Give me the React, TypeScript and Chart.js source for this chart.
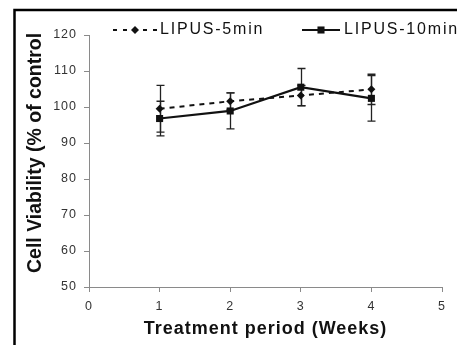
import React, { useEffect, useRef } from 'react';
import { Chart, registerables } from 'chart.js';

Chart.register(...registerables);

const weeks = [1, 2, 3, 4];
const xTicks = [0, 1, 2, 3, 4, 5];
const yTicks = [50, 60, 70, 80, 90, 100, 110, 120];
const lipus5 = [99.5, 101.6, 103.2, 104.9];
const lipus5Err = [6.5, 2.3, 2.8, 4.2];
const lipus10 = [96.8, 98.9, 105.5, 102.4];
const lipus10Err = [4.8, 5.0, 5.2, 6.3];
const seriesLabels = ['LIPUS-5min', 'LIPUS-10min'];
const xTitle = 'Treatment period (Weeks)';
const yTitle = 'Cell Viability (% of control';

const FONT = '"Liberation Sans", Arial, Helvetica, sans-serif';
const INK = '#111';
const AXIS = '#8a8a8a';

function drawMarker(ctx: CanvasRenderingContext2D, style: string, x: number, y: number, r: number) {
  ctx.beginPath();
  if (style === 'rectRot') {
    ctx.moveTo(x - r, y);
    ctx.lineTo(x, y - r);
    ctx.lineTo(x + r, y);
    ctx.lineTo(x, y + r);
  } else {
    const s = r * Math.SQRT1_2;
    ctx.rect(x - s, y - s, 2 * s, 2 * s);
  }
  ctx.closePath();
  ctx.fill();
}

const customPlugin = {
  id: 'customDecor',
  beforeDraw(chart: any) {
    const ctx = chart.ctx as CanvasRenderingContext2D;
    (ctx as any).letterSpacing = '1px';
    ctx.save();
    ctx.strokeStyle = '#000';
    ctx.lineWidth = 2.5;
    ctx.beginPath();
    ctx.moveTo(14.5, 400);
    ctx.lineTo(14.5, 10);
    ctx.lineTo(600, 10);
    ctx.stroke();
    ctx.restore();
  },
  beforeDatasetsDraw(chart: any) {
    const ctx = chart.ctx as CanvasRenderingContext2D;
    const xs = chart.scales.x;
    const ys = chart.scales.y;
    const sets = [
      { v: lipus5, e: lipus5Err },
      { v: lipus10, e: lipus10Err },
    ];
    ctx.save();
    ctx.strokeStyle = '#222';
    ctx.lineWidth = 1.3;
    ctx.setLineDash([]);
    sets.forEach((s) => {
      weeks.forEach((w, i) => {
        const x = Math.round(xs.getPixelForValue(w)) + 0.5;
        const yt = ys.getPixelForValue(s.v[i] + s.e[i]);
        const yb = ys.getPixelForValue(s.v[i] - s.e[i]);
        ctx.beginPath();
        ctx.moveTo(x, yt);
        ctx.lineTo(x, yb);
        ctx.moveTo(x - 4, yt);
        ctx.lineTo(x + 4, yt);
        ctx.moveTo(x - 4, yb);
        ctx.lineTo(x + 4, yb);
        ctx.stroke();
      });
    });
    ctx.restore();
  },
  afterDraw(chart: any) {
    const ctx = chart.ctx as CanvasRenderingContext2D;
    const area = chart.chartArea;
    // legend
    const items = [
      { x0: 113, x1: 157, mx: 135, tx: 160, dash: [4, 6], style: 'rectRot', r: 4 },
      { x0: 302, x1: 340, mx: 321, tx: 344, dash: [] as number[], style: 'rect', r: 5 },
    ];
    const ly = 30;
    ctx.save();
    items.forEach((it, i) => {
      ctx.strokeStyle = INK;
      ctx.fillStyle = INK;
      ctx.lineWidth = 2;
      ctx.setLineDash(it.dash);
      ctx.beginPath();
      ctx.moveTo(it.x0, ly);
      ctx.lineTo(it.x1, ly);
      ctx.stroke();
      ctx.setLineDash([]);
      drawMarker(ctx, it.style, it.mx, ly, it.r);
      (ctx as any).letterSpacing = '1.8px';
      ctx.font = `16px ${FONT}`;
      ctx.textAlign = 'left';
      ctx.textBaseline = 'middle';
      ctx.fillText(seriesLabels[i], it.tx, ly);
    });
    ctx.restore();

    // x title
    ctx.save();
    (ctx as any).letterSpacing = '1px';
    ctx.fillStyle = INK;
    ctx.font = `bold 18px ${FONT}`;
    ctx.textAlign = 'center';
    ctx.textBaseline = 'middle';
    ctx.fillText(xTitle, (area.left + area.right) / 2, 329);
    ctx.restore();

    // y title
    ctx.save();
    (ctx as any).letterSpacing = '0px';
    ctx.fillStyle = INK;
    ctx.font = `bold 19.5px ${FONT}`;
    ctx.translate(36, 273);
    ctx.rotate(-Math.PI / 2);
    ctx.textAlign = 'left';
    ctx.textBaseline = 'middle';
    ctx.fillText(yTitle, 0, 0);
    ctx.restore();
  },
};

export default function App() {
  const canvasRef = useRef<HTMLCanvasElement | null>(null);

  useEffect(() => {
    if (!canvasRef.current) return;
    const chart = new Chart(canvasRef.current, {
      type: 'line',
      data: {
        datasets: [
          {
            label: seriesLabels[0],
            data: weeks.map((w, i) => ({ x: w, y: lipus5[i] })),
            borderColor: INK,
            backgroundColor: INK,
            borderWidth: 2,
            borderDash: [5, 5],
            pointStyle: 'rectRot',
            pointRadius: 4,
            pointBackgroundColor: INK,
            pointBorderColor: INK,
            pointBorderWidth: 0,
            tension: 0,
            fill: false,
          },
          {
            label: seriesLabels[1],
            data: weeks.map((w, i) => ({ x: w, y: lipus10[i] })),
            borderColor: INK,
            backgroundColor: INK,
            borderWidth: 2.2,
            pointStyle: 'rect',
            pointRadius: 5,
            pointBackgroundColor: INK,
            pointBorderColor: INK,
            pointBorderWidth: 0,
            tension: 0,
            fill: false,
          },
        ],
      },
      options: {
        responsive: false,
        animation: false,
        devicePixelRatio: 1,
        layout: { padding: { top: 35, right: 15, left: 0, bottom: 0 } },
        plugins: {
          legend: { display: false },
          tooltip: { enabled: false },
        },
        scales: {
          x: {
            type: 'linear',
            min: xTicks[0],
            max: xTicks[xTicks.length - 1],
            ticks: {
              stepSize: 1,
              color: '#333',
              font: { family: FONT, size: 12.5 },
              padding: 7,
            },
            grid: { drawOnChartArea: false, drawTicks: true, tickLength: 5, color: AXIS },
            border: { color: AXIS, width: 1 },
            afterFit: (s: any) => {
              s.height = 58;
            },
          },
          y: {
            type: 'linear',
            min: yTicks[0],
            max: yTicks[yTicks.length - 1],
            ticks: {
              stepSize: 10,
              color: '#333',
              font: { family: FONT, size: 12.5 },
              padding: 7,
            },
            grid: { drawOnChartArea: false, drawTicks: true, tickLength: 5, color: AXIS },
            border: { color: AXIS, width: 1 },
            afterFit: (s: any) => {
              s.width = 89;
            },
          },
        },
      },
      plugins: [customPlugin],
    } as any);
    return () => chart.destroy();
  }, []);

  return (
    <div style={{ position: 'fixed', left: 0, top: 0, width: 457, height: 345, background: '#fff' }}>
      <canvas ref={canvasRef} width={457} height={345} style={{ width: 457, height: 345, display: 'block' }} />
    </div>
  );
}
